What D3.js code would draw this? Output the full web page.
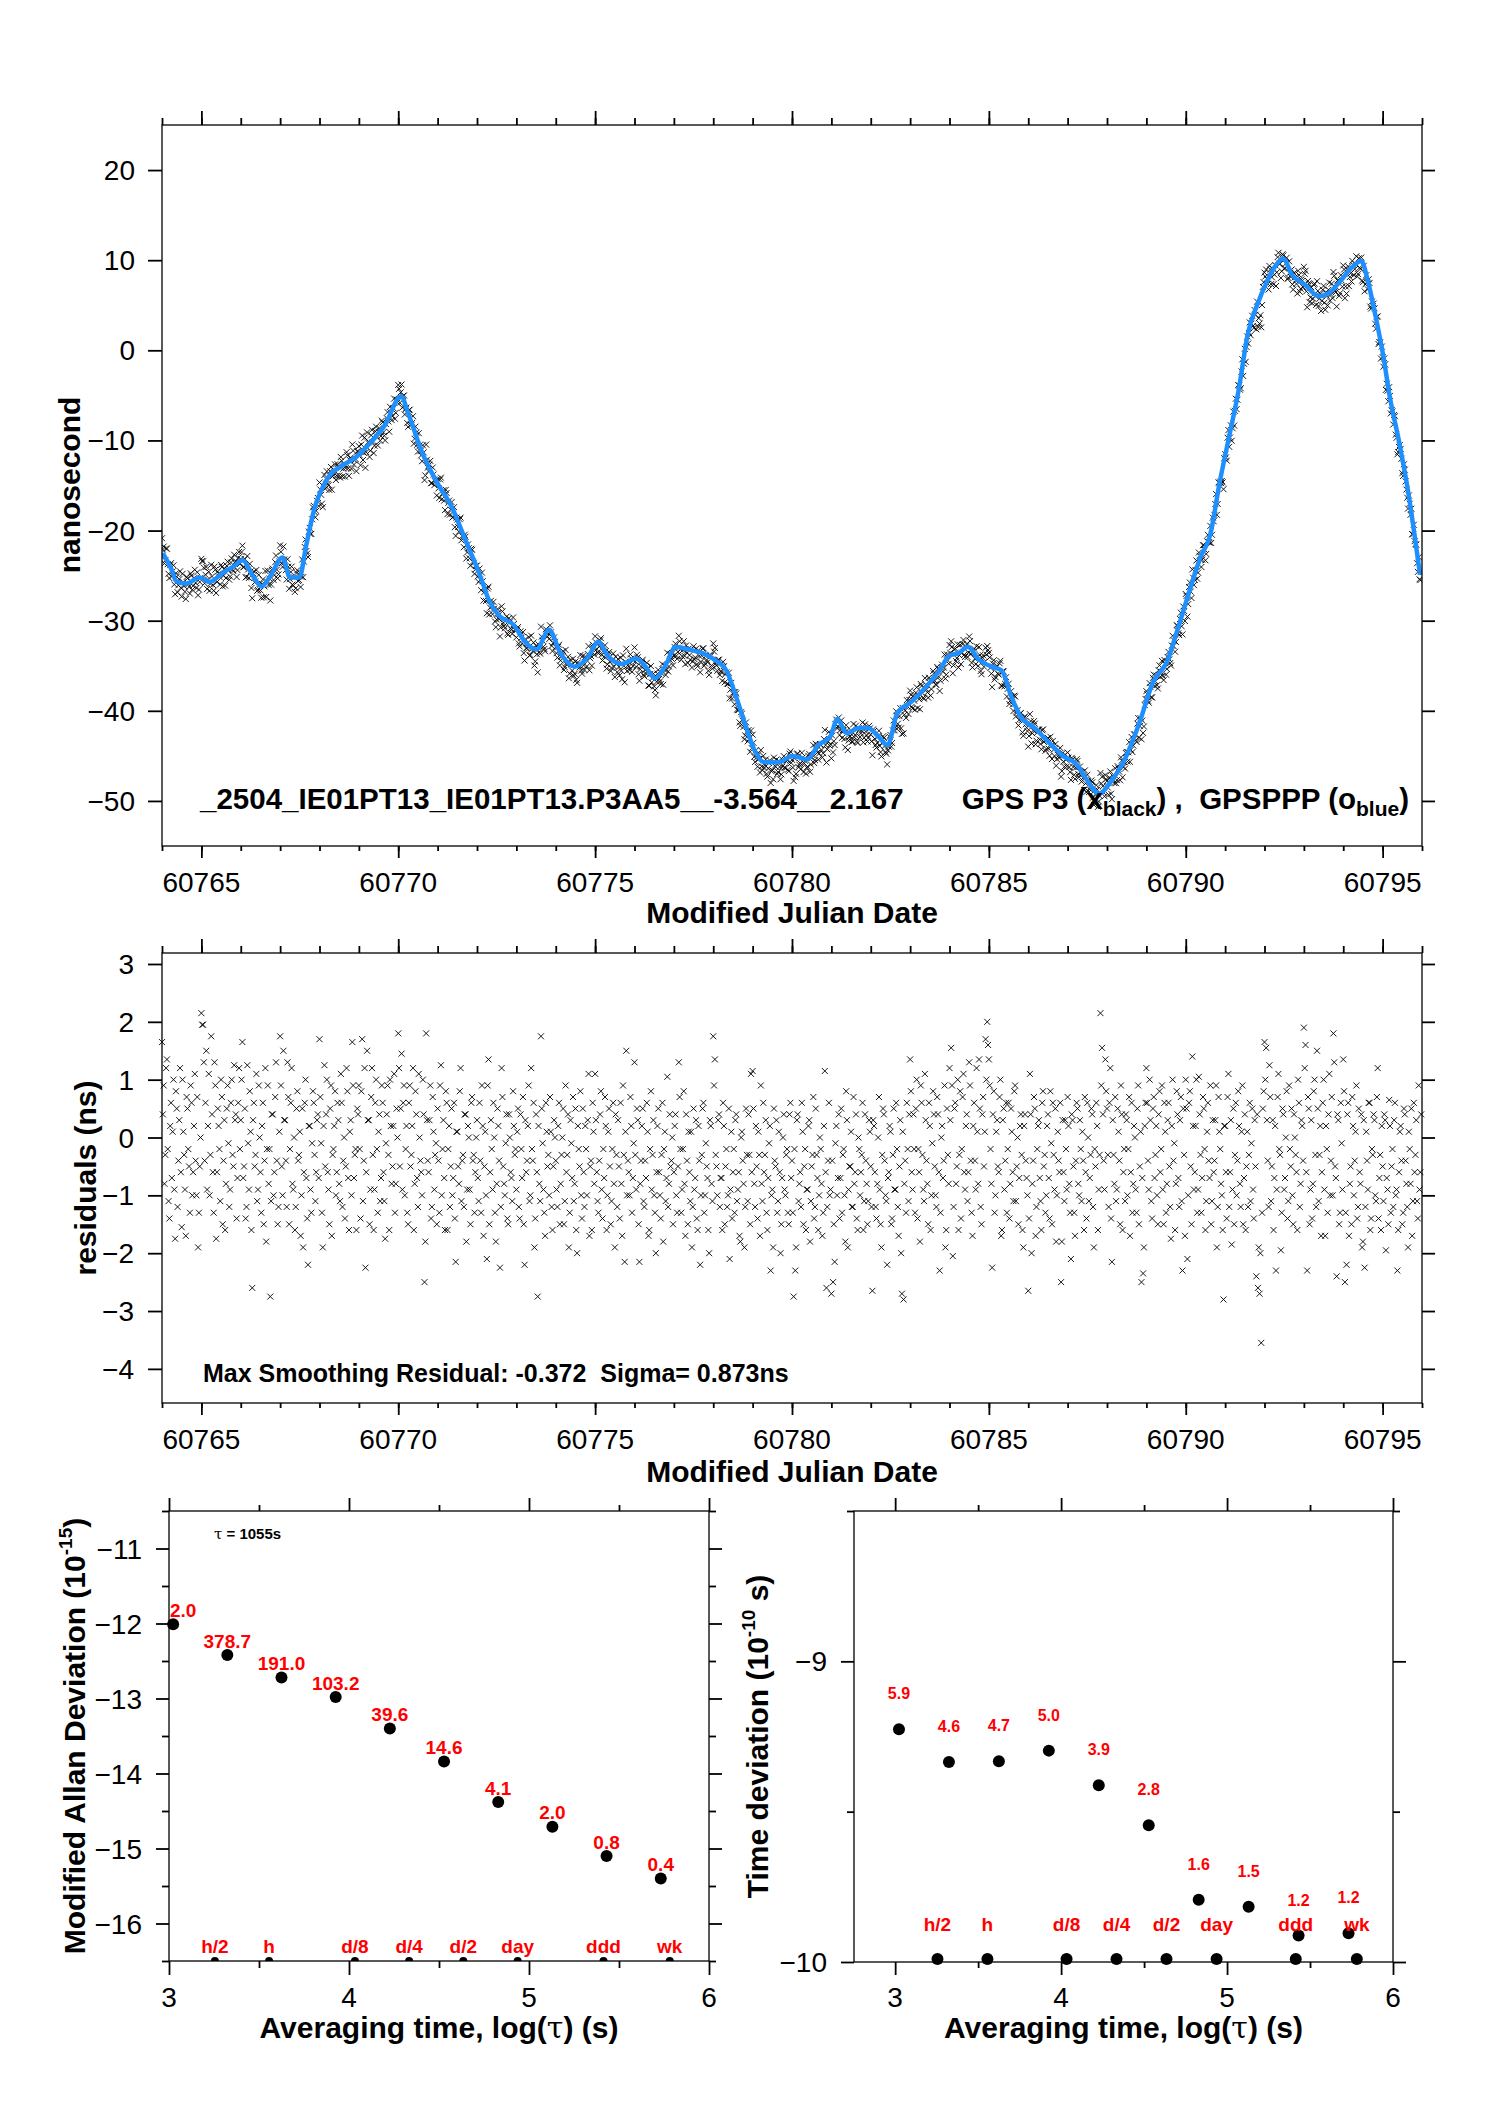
<!DOCTYPE html>
<html><head><meta charset="utf-8">
<script src="https://cdn.jsdelivr.net/npm/d3@7"></script>
<style>
body{margin:0;background:#fff}
svg{display:block}
text{font-family:"Liberation Sans",Arial,Helvetica,sans-serif;white-space:pre}
</style>
</head><body>
<svg id="c" width="1488" height="2105"></svg>
<script>
// ---------------- DATA ----------------
// smoothed GPSPPP curve (blue), MJD and nanoseconds
const blueT=[60764.02,60764.24,60764.36,60764.60,60764.96,60765.20,60765.57,60765.81,60766.05,60766.29,60766.53,60766.77,60767.06,60767.25,60767.49,60767.66,60767.85,60768.22,60768.58,60768.94,60769.30,60769.66,60770.07,60770.26,60770.62,60770.99,60771.35,60771.71,60772.07,60772.31,60772.55,60772.91,60773.27,60773.51,60773.83,60774.12,60774.48,60774.84,60775.08,60775.32,60775.68,60776.04,60776.28,60776.52,60776.77,60777.05,60777.37,60777.73,60778.09,60778.33,60778.57,60778.81,60779.05,60779.29,60779.65,60780.02,60780.38,60780.67,60780.98,60781.15,60781.39,60781.70,60781.94,60782.18,60782.43,60782.67,60783.03,60783.39,60783.75,60783.99,60784.23,60784.47,60784.72,60785.07,60785.32,60785.56,60785.80,60786.16,60786.52,60786.88,60787.24,60787.48,60787.80,60788.09,60788.45,60788.81,60789.17,60789.53,60789.77,60790.13,60790.37,60790.62,60790.86,60791.10,60791.34,60791.58,60791.82,60792.06,60792.30,60792.47,60792.71,60793.02,60793.38,60793.62,60793.91,60794.22,60794.46,60794.63,60794.82,60795.02,60795.18,60795.42,60795.66,60795.83,60795.95];
const blueV=[-22.5,-24.3,-25.6,-25.9,-25.2,-25.7,-24.6,-24.0,-23.3,-24.9,-26.2,-24.9,-23.0,-25.2,-25.2,-21.7,-17.9,-14.1,-12.8,-11.8,-10.2,-8.3,-5.1,-7.1,-11.5,-14.7,-17.3,-21.1,-24.9,-27.8,-29.4,-30.4,-32.6,-33.2,-31.0,-33.6,-35.1,-33.9,-32.3,-33.9,-34.8,-34.2,-35.1,-36.4,-35.1,-32.9,-33.2,-33.6,-34.5,-35.5,-38.3,-41.5,-44.4,-45.7,-45.7,-45.0,-45.4,-43.8,-42.8,-40.9,-42.5,-41.9,-41.9,-42.8,-43.8,-40.3,-39.0,-37.4,-35.5,-33.9,-33.6,-32.9,-34.2,-35.1,-35.5,-38.3,-40.6,-41.9,-43.5,-45.0,-46.0,-47.6,-49.2,-47.9,-45.4,-41.5,-36.8,-34.5,-31.3,-26.2,-23.0,-20.5,-14.7,-9.6,-4.5,1.9,5.1,7.6,9.5,10.2,8.3,7.3,6.0,6.3,7.6,9.2,9.9,7.6,3.8,-0.7,-5.1,-10.2,-16.0,-21.1,-24.9];

// smoothing residuals (ns): hourly series from MJD 60764.0 and a second series offset by half an hour
const resStart=60764.0, resStep=1/24, resOffset2=0.5/24;
const resV=[
1.65,0.9,-0.3,1.35,-1.1,0.2,-0.7,1.0,-1.75,0.5,-0.4,1.2,-1.55,0.1,-0.9,0.7,-0.2,-1.3,0.6,-0.6,1.1,-1.0,-1.9,-0.5,
2.15,1.95,-0.4,1.5,0.2,-1.0,1.75,-0.6,1.3,-1.75,0.5,-0.2,1.0,-1.5,0.3,-0.8,0.9,-1.2,0.6,-0.3,1.25,0.4,-0.7,1.2,
0.3,1.65,-0.5,-1.4,1.25,-0.9,0.1,-2.6,0.6,-0.3,-1.1,0.9,-0.6,0.2,-1.5,1.2,-0.2,-0.8,-2.75,0.4,-1.0,0.7,-0.4,-1.2,
1.75,-0.5,1.5,0.3,-1.2,0.7,-0.2,1.2,-0.9,-1.6,0.5,-0.4,0.1,-1.0,-1.9,0.6,-0.7,-2.2,0.2,-1.3,0.8,-0.3,-0.6,0.4,
1.7,-0.1,-1.9,1.25,0.4,-0.6,-1.5,0.9,-0.3,0.2,-1.0,0.6,-0.8,1.1,-1.2,0.0,-0.5,0.8,-1.6,0.3,1.65,-0.7,-0.2,0.5,
0.9,-1.4,1.7,-0.4,-2.25,1.5,0.3,-0.9,1.2,-1.6,0.6,-0.2,0.1,-1.1,0.9,-0.6,-1.75,0.4,-0.3,1.0,-0.8,0.2,-1.3,0.5,
1.8,-0.5,1.45,0.6,-1.0,0.2,-1.5,0.9,-0.3,1.2,-0.8,0.4,-1.2,0.0,-0.6,1.0,-2.5,1.8,-0.4,0.3,-1.4,0.7,-0.9,-0.1,
0.5,-1.3,1.25,-0.2,-0.7,0.8,-1.6,0.2,-0.5,-1.0,0.6,-2.15,0.1,-0.8,1.2,-0.4,-1.2,0.4,-0.9,0.0,-1.5,0.7,-0.3,-0.6,
0.3,-1.1,-0.4,0.9,-1.7,0.1,-2.1,1.35,-0.6,-0.2,0.6,-1.3,-0.8,0.2,-2.25,1.2,-0.5,-1.0,0.4,-1.5,0.0,-0.7,0.8,-0.3,
-0.9,0.5,-1.4,-0.2,0.7,-2.2,-0.6,0.2,-1.1,1.2,-0.4,-1.9,0.4,-2.75,-0.8,1.75,-0.1,-1.3,0.6,-0.5,-1.0,0.1,-1.6,0.3,
-0.4,-1.2,0.6,-0.8,0.0,-1.5,0.9,-0.3,-1.9,0.3,-0.7,-1.1,0.5,-2.0,-0.2,0.8,-1.4,-0.6,0.2,-1.0,1.1,-0.5,-1.6,0.1,
1.1,-0.6,-1.3,0.4,-0.9,-0.2,0.7,-1.6,0.1,-0.5,-1.1,0.6,-1.9,-0.3,0.3,-1.4,-0.8,0.9,-2.15,1.5,-0.4,-1.0,0.2,-0.7,
1.3,-0.9,0.3,-2.15,-0.4,0.5,-1.2,-0.7,0.1,-1.6,0.8,-0.3,-1.0,-2.0,0.2,-0.6,-1.4,0.6,-0.2,-1.1,1.05,-0.8,-0.5,0.0,
-0.6,0.4,-1.3,1.3,-0.2,-0.9,0.8,-1.7,-0.4,0.1,-1.1,-1.9,0.5,-0.7,-1.4,0.2,-2.2,-0.3,0.6,-1.0,-0.5,-1.6,0.3,-0.8,
1.75,1.35,-0.5,0.3,-1.2,-0.7,0.6,-1.5,-0.2,-1.0,-2.1,0.1,-0.6,-1.3,0.4,-0.9,-1.7,0.0,-0.4,-1.9,0.5,-1.1,-0.3,1.1,
1.15,-0.8,0.2,-1.4,-0.3,0.9,-1.1,-0.6,0.3,-1.6,-0.1,-2.3,-0.9,0.5,-0.5,-1.3,0.1,-2.0,-0.7,0.4,-1.0,-0.2,-1.5,0.6,
-0.4,-2.75,-2.3,0.3,-1.1,-0.6,0.6,-1.5,-0.2,-0.9,0.2,-1.8,-0.5,0.7,-1.2,-0.3,-1.6,0.0,-0.8,-1.3,1.15,-2.6,-0.4,-1.0,
-2.7,-2.5,-2.15,0.2,-0.7,-1.4,0.5,-0.3,-1.0,0.8,-1.9,-0.5,0.1,-1.2,-0.8,0.4,-1.6,-0.2,-0.6,0.6,-1.1,-0.4,-1.5,0.3,
-0.5,-2.65,0.2,-1.2,-0.8,0.7,-1.5,-0.3,0.4,-1.0,-2.2,-0.6,0.1,-1.4,0.5,-0.9,-0.2,-1.7,0.3,-2.7,-2.8,-0.4,0.6,-1.1,
1.35,-0.6,0.4,-1.3,1.0,-0.2,-1.8,0.6,-0.9,1.1,-0.4,-1.5,0.2,-1.0,0.8,-0.5,-1.2,0.4,-2.3,0.0,-0.7,0.9,-1.6,-0.3,
1.2,1.55,-2.05,0.5,-0.8,1.0,-0.3,-1.4,0.7,-0.6,0.2,-1.1,1.3,-0.4,-1.7,0.6,-0.9,0.1,1.35,-1.2,0.4,-0.5,1.7,2.0,
1.35,-0.2,-2.25,0.8,-1.0,0.3,-0.6,1.0,-1.6,0.5,-0.4,-1.3,0.6,-0.8,0.1,-1.1,0.9,-0.5,-1.5,0.2,-0.3,-1.9,0.4,-0.7,
-2.65,1.1,-2.0,-0.4,0.5,-1.2,0.2,-0.7,-1.6,0.8,-0.3,-1.0,0.4,-1.4,-0.1,0.6,-0.9,-1.8,0.1,-0.6,-2.5,0.3,-1.1,-0.2,
0.7,-0.8,-2.1,0.3,-1.3,-0.4,0.5,-1.0,-0.2,0.1,-1.6,-0.6,0.6,-1.1,-0.3,0.4,-1.9,-0.5,0.2,-0.9,2.15,1.55,-0.4,1.35,
0.5,-1.2,1.2,-2.15,-0.3,0.7,-0.9,0.1,-1.5,0.4,-0.6,-1.1,0.3,-0.2,-1.7,0.6,-0.8,0.0,-1.3,0.9,-0.5,-2.5,-2.35,0.2,
1.2,-0.4,1.0,-1.1,0.5,-0.7,0.2,-1.5,0.8,-0.2,-0.9,0.6,-1.3,0.3,-0.5,-1.75,1.0,-0.1,-0.8,0.4,-1.2,0.7,-2.3,-0.3,
1.0,-2.1,0.6,-0.5,1.4,-0.9,0.2,-1.3,1.05,-0.3,-0.7,0.5,-1.6,0.1,-0.4,0.9,-1.1,-0.6,0.3,-1.9,0.7,-0.2,-1.0,-2.8,
0.2,-1.4,1.1,-0.6,-1.85,0.5,-0.3,-1.0,0.8,-0.8,0.1,-1.5,0.4,-0.5,-1.2,0.6,-0.1,-0.9,0.3,-2.4,-2.6,-2.7,-3.55,0.5,
1.65,1.55,-0.4,1.25,-1.1,0.3,-0.7,-2.3,0.7,-0.2,-1.95,0.5,-0.9,0.0,-1.4,0.9,-0.5,-1.0,0.4,-0.3,-1.6,0.6,-0.8,0.2,
1.9,1.6,-2.3,0.5,-0.9,-1.4,0.8,-0.3,1.5,-1.1,0.2,-0.6,1.0,-1.7,-0.2,0.4,-1.0,0.7,1.8,-0.5,-2.4,0.3,-1.3,-0.1,
1.35,-2.5,-2.2,0.6,-0.8,-1.5,0.2,-0.4,0.9,-1.2,-0.6,0.4,-1.8,-2.25,0.1,-0.9,0.6,-1.4,-0.3,0.3,-1.1,1.2,-0.7,-1.6,
-0.5,0.4,-1.95,-0.9,0.65,-1.3,-0.2,0.3,-1.0,-2.3,-0.6,0.2,-1.5,0.5,-0.4,-1.2,0.1,-0.8,-1.7,0.6,-0.3,-1.1,0.9,-0.6];
const resV2=[
0.4,-0.8,1.2,-0.2,-1.4,0.6,0.1,-0.9,0.8,-1.2,0.3,-0.6,1.0,-0.3,-1.7,0.5,-0.5,0.9,-1.0,0.2,-0.4,0.7,-1.3,0.0,
1.95,1.3,0.6,-0.9,1.1,-0.3,0.4,-1.3,0.9,-0.6,0.2,-1.1,0.7,-0.4,-1.6,0.5,-0.1,-0.9,1.0,-0.5,0.3,-1.4,0.6,-0.2,
1.0,-0.7,0.5,-1.2,-0.1,0.8,-1.6,0.3,-0.5,1.1,-0.9,0.0,-1.3,0.6,-0.4,-1.8,0.9,-0.2,-1.1,0.4,-0.6,1.3,-1.5,0.1,
0.9,-1.0,0.3,-0.4,1.3,-1.5,0.6,-0.8,0.0,-1.2,0.8,-0.3,-1.7,0.5,-0.6,1.0,-1.4,0.2,-0.9,-0.1,0.6,-1.1,0.3,-0.7,
0.7,-1.3,0.2,-0.5,1.0,-0.9,0.5,-1.7,-0.2,0.8,-0.6,0.3,-1.1,0.6,-0.4,-1.4,1.2,-0.7,0.1,-1.0,0.9,-0.3,-1.6,0.4,
-0.2,0.8,-1.1,1.2,-0.6,0.3,-1.5,0.7,-0.3,-0.9,1.0,-1.3,0.4,-0.7,0.6,-1.1,-0.1,0.9,-1.6,0.2,-0.5,1.1,-0.8,0.0,
1.2,0.5,-0.9,0.9,-0.2,-1.3,0.6,-0.5,0.2,-1.6,0.8,-0.7,1.1,-0.4,-1.0,0.4,-1.8,0.3,-0.6,0.9,-1.2,0.1,-0.3,-1.5,
-0.4,0.9,-1.0,0.3,-1.6,0.6,-0.2,-1.2,0.5,-0.7,-1.4,0.1,-0.5,0.8,-1.1,-0.3,0.4,-1.8,0.2,-0.9,0.6,-0.4,-1.3,0.0,
-0.7,0.6,-1.3,0.2,-0.5,-1.0,0.9,-1.5,0.3,-0.9,0.0,-1.8,0.5,-0.4,-1.2,0.7,-0.8,-0.1,-1.4,0.4,-0.6,-1.1,0.2,-0.2,
0.1,-1.2,0.4,-0.7,-1.5,0.3,-0.4,0.9,-1.0,-0.2,0.6,-1.4,-0.6,0.2,-1.1,0.5,-0.9,-1.7,0.1,-0.3,0.7,-1.2,-0.5,0.0,
-0.9,0.2,-1.5,-0.3,0.5,-1.1,-0.6,0.4,-1.3,-0.1,0.7,-0.8,-1.6,0.2,-0.5,-1.0,0.5,-1.2,-0.2,0.3,-1.7,-0.4,0.6,-0.8,
0.3,-1.1,-0.4,0.8,-1.4,-0.7,0.2,-1.0,0.5,-1.5,-0.2,-0.8,0.4,-1.2,-0.5,0.6,-1.7,-0.3,0.1,-1.0,-0.6,0.7,-1.3,-0.1,
-0.3,0.5,-1.5,-0.8,0.2,-1.1,-0.4,0.6,-1.7,-0.2,-0.9,0.3,-1.3,-0.6,0.5,-1.0,-0.3,-1.8,0.1,-0.7,-1.2,0.4,-0.4,-1.5,
0.2,-1.0,-0.5,0.7,-1.3,-0.2,-0.8,0.4,-1.5,-0.6,0.1,-1.2,-0.9,0.3,-1.6,-0.4,-1.0,0.5,-1.3,-0.1,-0.7,-2.0,0.2,-1.1,
0.9,-0.3,-1.0,0.4,-0.7,-1.6,0.2,-0.5,-1.2,0.5,-0.9,-1.4,-0.2,0.3,-1.1,-0.6,-1.8,0.1,-0.8,-1.2,-0.3,0.4,-1.5,-0.6,
0.5,-1.2,-0.5,0.1,-1.7,-0.8,0.6,-0.3,-1.3,-0.7,0.2,-1.0,-1.9,-0.4,0.3,-1.1,-0.6,-1.5,0.0,-0.9,-0.3,-1.3,0.4,-0.7,
-1.3,-0.2,-1.9,0.4,-0.8,-1.2,0.1,-0.5,-1.6,-0.9,0.3,-1.1,-0.3,-1.4,0.5,-0.7,-1.0,-0.2,-1.7,0.2,-0.6,-1.2,0.6,-0.9,
-0.4,-1.5,-0.1,-1.0,0.4,-0.7,-1.3,-0.2,-1.8,0.3,-0.9,-0.5,-1.2,0.7,-0.6,-1.4,0.0,-1.0,-0.3,-1.6,0.4,-0.8,-1.1,0.1,
-1.2,0.3,-0.6,-1.4,0.0,-0.9,-1.9,0.5,-0.4,-1.1,-0.7,0.2,-1.5,-0.3,-0.9,0.6,-1.2,-0.5,-2.0,0.1,-0.8,-1.3,-0.2,0.4,
0.8,-0.9,-0.2,0.5,-1.4,-0.6,0.9,-0.3,-1.1,0.3,-0.8,0.6,-1.6,-0.1,0.4,-1.0,0.7,-0.6,-1.3,0.2,-0.4,-1.9,0.5,-0.8,
0.3,0.9,-1.2,0.6,-0.5,-1.6,0.8,-0.2,1.1,-0.9,0.4,-0.6,0.9,-1.3,0.2,-0.4,1.2,-0.8,0.5,-1.5,0.7,0.1,1.0,1.6,
0.9,-0.8,0.4,-1.3,0.1,-0.5,0.7,-1.7,0.3,-0.9,0.6,-0.2,-1.4,0.5,-0.6,0.8,-1.1,0.0,-0.7,0.4,-1.6,0.2,-0.4,-1.0,
-1.4,0.4,-0.8,0.7,-1.7,-0.2,0.3,-1.1,0.6,-0.5,-1.3,0.2,-0.7,0.8,-1.5,-0.3,0.5,-1.0,-0.4,0.6,-1.8,-0.6,0.3,-0.9,
0.2,-1.3,0.4,-0.5,-1.7,0.6,-0.8,0.3,-1.1,-0.4,0.7,-1.4,0.0,-0.7,0.5,-1.2,-0.2,0.6,-1.6,-0.3,0.9,0.4,-0.9,0.8,
-0.3,0.6,-1.4,0.3,-0.8,-1.1,0.5,-0.4,0.9,-1.6,-0.2,0.4,-1.0,0.7,-0.6,-1.3,0.2,-0.9,0.5,-1.5,0.1,-0.7,-1.9,0.6,
0.6,-0.9,0.3,-1.4,0.7,-0.3,-1.0,0.4,-0.6,0.9,-1.5,0.1,-0.8,0.6,-1.2,0.2,-0.4,-1.6,0.8,-0.7,0.3,-1.1,0.5,-1.7,
0.5,-1.0,0.8,-1.5,0.2,-0.6,1.0,-0.9,0.4,-1.3,0.7,-0.2,-1.1,0.6,-0.7,-1.5,0.3,-0.4,0.9,-1.2,0.1,-0.8,-1.6,0.2,
-0.6,0.7,-1.2,0.3,-0.9,-1.5,0.6,-0.4,0.2,-1.2,0.9,-0.7,-1.6,0.1,-0.3,-1.1,0.5,-1.4,-0.5,0.4,-1.9,-2.0,-1.3,0.8,
1.0,0.3,-1.2,0.7,-0.5,-1.6,0.2,-0.9,1.1,-0.3,-1.3,0.4,-0.7,0.8,-1.1,-0.2,0.5,-1.5,0.0,-0.6,1.0,-1.2,0.3,-0.4,
1.2,-0.6,0.7,-1.5,0.3,-0.8,1.0,-1.2,0.5,-0.3,-1.7,0.6,-0.9,0.2,-1.3,1.1,-0.4,-1.0,1.3,-0.7,0.4,-1.5,0.6,-0.9,
0.8,-1.3,0.4,-1.7,-0.5,0.7,-1.0,0.1,-1.4,0.5,-0.8,-1.9,0.3,-1.2,-0.4,0.6,-1.6,-0.2,0.4,-1.0,0.7,-1.4,-0.3,0.2,
-1.1,0.3,-0.7,-1.5,0.2,-0.5,-1.2,0.6,-0.9,-1.6,0.1,-0.4,-1.3,0.4,-0.8,-1.9,-0.2,0.5,-1.1,-0.6,0.3,-1.4,-0.9,0.4];

// Modified Allan deviation (log10) and Time deviation (log10)
const tauLog=[3.023,3.324,3.625,3.926,4.227,4.528,4.829,5.130,5.431,5.732];
const adevLog=[-12.01,-12.42,-12.72,-12.98,-13.40,-13.84,-14.38,-14.71,-15.10,-15.40];
const adevLbl=["2.0","378.7","191.0","103.2","39.6","14.6","4.1","2.0","0.8","0.4"];
const tdevLog=[-9.226,-9.335,-9.332,-9.297,-9.412,-9.545,-9.793,-9.816,-9.912,-9.904];
const tdevLbl=["5.9","4.6","4.7","5.0","3.9","2.8","1.6","1.5","1.2","1.2"];
const markLog=[3.255,3.556,4.033,4.334,4.635,4.937,5.414,5.782];
const markLbl=["h/2","h","d/8","d/4","d/2","day","ddd","wk"];

const mjdMajor=[60765,60770,60775,60780,60785,60790,60795];
const mjdMinor=d3.range(60764,60797,1);
const nsTicks=[20,10,0,-10,-20,-30,-40,-50];
const resTicks=[3,2,1,0,-1,-2,-3,-4];

// ---------------- DRAW ----------------
const svg=d3.select("#c");
const BLUE="#1e8fff", RED="#ff0000";
const TICKFONT=28;

function frame(x0,y0,x1,y1){
  svg.append("rect").attr("x",x0).attr("y",y0).attr("width",x1-x0).attr("height",y1-y0)
    .attr("fill","none").attr("stroke","#000").attr("stroke-width",1.3);
}
function tickAxis(axisFn,scale,vals,size,tx,ty){
  const g=svg.append("g").attr("transform",`translate(${tx},${ty})`)
    .call(axisFn(scale).tickValues(vals).tickSize(size).tickFormat(""));
  g.select(".domain").remove();
  g.selectAll("line").attr("stroke","#000").attr("stroke-width",1.8);
  return g;
}
function labels(vals,fx,fy,anchor,size){
  svg.append("g").selectAll("text").data(vals).join("text")
    .attr("x",fx).attr("y",fy).attr("text-anchor",anchor)
    .attr("font-size",size).attr("fill","#000").text(d=>d3.format("")(d));
}
const xPath="M-3,-3L3,3M-3,3L3,-3";

// combined residual series (time, value)
const resPts=resV.map((v,i)=>[resStart+i*resStep,v])
  .concat(resV2.map((v,i)=>[resStart+resOffset2+i*resStep,v]));

// ===== Top plot =====
const X1=162,X2=1422;
const xT=d3.scaleLinear([60764,60796],[X1,X2]);
const yN=d3.scaleLinear([-55,25],[846,125]);
svg.append("clipPath").attr("id","clipTop").append("rect").attr("x",X1).attr("y",125).attr("width",X2-X1).attr("height",721);
const smooth=d3.scaleLinear().domain(blueT).range(blueV).clamp(true);
const gTop=svg.append("g").attr("clip-path","url(#clipTop)");
gTop.append("g").selectAll("path").data(resPts).join("path")
  .attr("d",xPath).attr("fill","none").attr("stroke","#000").attr("stroke-width",0.9)
  .attr("transform",d=>`translate(${xT(d[0])},${yN(smooth(d[0])+d[1])})`);
gTop.append("path").datum(blueT.map((t,i)=>[t,blueV[i]]))
  .attr("d",d3.line().x(d=>xT(d[0])).y(d=>yN(d[1])).curve(d3.curveMonotoneX))
  .attr("fill","none").attr("stroke",BLUE).attr("stroke-width",4.5).attr("stroke-linejoin","round");
frame(X1,125,X2,846);
tickAxis(d3.axisTop,xT,mjdMinor,7,0,125);
tickAxis(d3.axisTop,xT,mjdMajor,14,0,125);
tickAxis(d3.axisBottom,xT,mjdMinor,5,0,846);
tickAxis(d3.axisBottom,xT,mjdMajor,12,0,846);
tickAxis(d3.axisLeft,yN,nsTicks,14,X1,0);
tickAxis(d3.axisRight,yN,nsTicks,13,X2,0);
labels(mjdMajor,d=>xT(d),892,"middle",TICKFONT);
labels(nsTicks,135,d=>yN(d)+10,"end",TICKFONT);
svg.append("text").attr("x",792).attr("y",923).attr("text-anchor","middle").attr("font-size",30).attr("font-weight","bold").text("Modified Julian Date");
svg.append("text").attr("transform","translate(80,485) rotate(-90)").attr("text-anchor","middle").attr("font-size",30).attr("font-weight","bold").text("nanosecond");
svg.append("text").attr("x",200).attr("y",809).attr("font-size",29.5).attr("font-weight","bold").text("_2504_IE01PT13_IE01PT13.P3AA5__-3.564__2.167");
{
  const t=svg.append("text").attr("x",1409).attr("y",809).attr("text-anchor","end").attr("font-size",29.5).attr("font-weight","bold");
  t.append("tspan").text("GPS P3 (x");
  t.append("tspan").attr("font-size",21).attr("dy",7).text("black");
  t.append("tspan").attr("dy",-7).text(") ,  GPSPPP (o");
  t.append("tspan").attr("font-size",21).attr("dy",7).text("blue");
  t.append("tspan").attr("dy",-7).text(")");
}

// ===== Residual plot =====
const RY1=953,RY2=1403;
const yR=d3.scaleLinear([-4.59,3.19],[RY2,RY1]);
svg.append("g").selectAll("path").data(resPts).join("path")
  .attr("d",xPath).attr("fill","none").attr("stroke","#000").attr("stroke-width",0.9)
  .attr("transform",d=>`translate(${xT(d[0])},${yR(d[1])})`);
frame(X1,RY1,X2,RY2);
tickAxis(d3.axisTop,xT,mjdMinor,7,0,RY1);
tickAxis(d3.axisTop,xT,mjdMajor,14,0,RY1);
tickAxis(d3.axisBottom,xT,mjdMinor,5,0,RY2);
tickAxis(d3.axisBottom,xT,mjdMajor,12,0,RY2);
tickAxis(d3.axisLeft,yR,resTicks,14,X1,0);
tickAxis(d3.axisRight,yR,resTicks,13,X2,0);
labels(mjdMajor,d=>xT(d),1449,"middle",TICKFONT);
labels(resTicks,134,d=>yR(d)+10,"end",TICKFONT);
svg.append("text").attr("x",792).attr("y",1482).attr("text-anchor","middle").attr("font-size",30).attr("font-weight","bold").text("Modified Julian Date");
svg.append("text").attr("transform","translate(96,1178) rotate(-90)").attr("text-anchor","middle").attr("font-size",30).attr("font-weight","bold").text("residuals (ns)");
svg.append("text").attr("x",203).attr("y",1382).attr("font-size",25).attr("font-weight","bold").text("Max Smoothing Residual: -0.372  Sigma= 0.873ns");

// ===== ADEV =====
const AX1=169,AX2=709,AY1=1511,AY2=1961;
const xA=d3.scaleLinear([3,6],[AX1,AX2]);
const yA=d3.scaleLinear([-16.5,-10.5],[AY2,AY1]);
svg.append("clipPath").attr("id","clipA").append("rect").attr("x",AX1).attr("y",AY1).attr("width",AX2-AX1).attr("height",AY2-AY1);
svg.append("g").attr("clip-path","url(#clipA)").selectAll("circle").data(markLog).join("circle")
  .attr("cx",d=>xA(d)).attr("cy",yA(-16.5)).attr("r",4).attr("fill","#000");
frame(AX1,AY1,AX2,AY2);
const aInt=[3,4,5,6], aHalf=[3.5,4.5,5.5];
const aYInt=[-16,-15,-14,-13,-12,-11], aYHalf=[-16.5,-15.5,-14.5,-13.5,-12.5,-11.5,-10.5];
tickAxis(d3.axisTop,xA,aInt,13,0,AY1); tickAxis(d3.axisTop,xA,aHalf,6,0,AY1);
tickAxis(d3.axisBottom,xA,aInt,14,0,AY2); tickAxis(d3.axisBottom,xA,aHalf,7,0,AY2);
tickAxis(d3.axisLeft,yA,aYInt,13,AX1,0); tickAxis(d3.axisLeft,yA,aYHalf,7,AX1,0);
tickAxis(d3.axisRight,yA,aYInt,13,AX2,0); tickAxis(d3.axisRight,yA,aYHalf,7,AX2,0);
labels(aInt,d=>xA(d),2007,"middle",TICKFONT);
labels(aYInt,142,d=>yA(d)+10,"end",TICKFONT);
svg.append("g").selectAll("circle").data(tauLog).join("circle")
  .attr("cx",d=>xA(d)).attr("cy",(d,i)=>yA(adevLog[i])).attr("r",6).attr("fill","#000");
svg.append("g").selectAll("text").data(adevLbl).join("text")
  .attr("x",(d,i)=>xA(tauLog[i])).attr("y",(d,i)=>yA(adevLog[i])-7.5)
  .attr("text-anchor","middle").attr("font-size",19).attr("font-weight","bold").attr("fill",RED).text(d=>d)
  .each(function(d,i){const w=this.getComputedTextLength(); const cx=xA(tauLog[i]); if(cx-w/2<AX1+1){d3.select(this).attr("x",AX1+1+w/2);} });
svg.append("g").selectAll("text").data(markLbl).join("text")
  .attr("x",(d,i)=>xA(markLog[i])).attr("y",1953)
  .attr("text-anchor","middle").attr("font-size",19).attr("font-weight","bold").attr("fill",RED).text(d=>d);
{
  const t=svg.append("text").attr("x",214).attr("y",1539).attr("font-size",15).attr("font-weight","bold");
  t.append("tspan").attr("font-family","DejaVu Serif").attr("font-weight","normal").text("τ");
  t.append("tspan").text(" = 1055s");
}
{
  const t=svg.append("text").attr("x",(AX1+AX2)/2).attr("y",2038).attr("text-anchor","middle").attr("font-size",30).attr("font-weight","bold");
  t.append("tspan").text("Averaging time, log(");
  t.append("tspan").attr("font-family","DejaVu Serif").attr("font-weight","normal").text("τ");
  t.append("tspan").text(") (s)");
}
{
  const t=svg.append("text").attr("transform",`translate(84.5,${(AY1+AY2)/2}) rotate(-90)`).attr("text-anchor","middle").attr("font-size",30).attr("font-weight","bold");
  t.append("tspan").text("Modified Allan Deviation (10");
  t.append("tspan").attr("font-size",19).attr("dy",-13).text("-15");
  t.append("tspan").attr("dy",13).text(")");
}

// ===== TDEV =====
const TX1=854,TX2=1393,TY1=1511,TY2=1962;
const xD=d3.scaleLinear([2.752,6],[TX1,TX2]);
const yD=d3.scaleLinear([-10,-8.5],[TY2,TY1]);
frame(TX1,TY1,TX2,TY2);
tickAxis(d3.axisTop,xD,aInt,13,0,TY1); tickAxis(d3.axisTop,xD,aHalf,6,0,TY1);
tickAxis(d3.axisBottom,xD,aInt,13,0,TY2); tickAxis(d3.axisBottom,xD,aHalf,6,0,TY2);
tickAxis(d3.axisLeft,yD,[-10,-9],13,TX1,0); tickAxis(d3.axisLeft,yD,[-9.5,-8.5],7,TX1,0);
tickAxis(d3.axisRight,yD,[-10,-9],13,TX2,0); tickAxis(d3.axisRight,yD,[-9.5,-8.5],7,TX2,0);
labels(aInt,d=>xD(d),2007,"middle",TICKFONT);
labels([-10,-9],827,d=>yD(d)+10,"end",TICKFONT);
svg.append("g").selectAll("circle").data(markLog).join("circle")
  .attr("cx",d=>xD(d)).attr("cy",yD(-9.99)).attr("r",6).attr("fill","#000");
svg.append("g").selectAll("circle").data(tauLog).join("circle")
  .attr("cx",d=>xD(d)).attr("cy",(d,i)=>yD(tdevLog[i])).attr("r",6).attr("fill","#000");
svg.append("g").selectAll("text").data(tdevLbl).join("text")
  .attr("x",(d,i)=>xD(tauLog[i])).attr("y",(d,i)=>yD(tdevLog[i])-30)
  .attr("text-anchor","middle").attr("font-size",16).attr("font-weight","bold").attr("fill",RED).text(d=>d);
svg.append("g").selectAll("text").data(markLbl).join("text")
  .attr("x",(d,i)=>xD(markLog[i])).attr("y",1931)
  .attr("text-anchor","middle").attr("font-size",19).attr("font-weight","bold").attr("fill",RED).text(d=>d);
{
  const t=svg.append("text").attr("x",(TX1+TX2)/2).attr("y",2038).attr("text-anchor","middle").attr("font-size",30).attr("font-weight","bold");
  t.append("tspan").text("Averaging time, log(");
  t.append("tspan").attr("font-family","DejaVu Serif").attr("font-weight","normal").text("τ");
  t.append("tspan").text(") (s)");
}
{
  const t=svg.append("text").attr("transform",`translate(768,${(TY1+TY2)/2}) rotate(-90)`).attr("text-anchor","middle").attr("font-size",30).attr("font-weight","bold");
  t.append("tspan").text("Time deviation (10");
  t.append("tspan").attr("font-size",19).attr("dy",-13).text("-10");
  t.append("tspan").attr("dy",13).text(" s)");
}
</script>
</body></html>
